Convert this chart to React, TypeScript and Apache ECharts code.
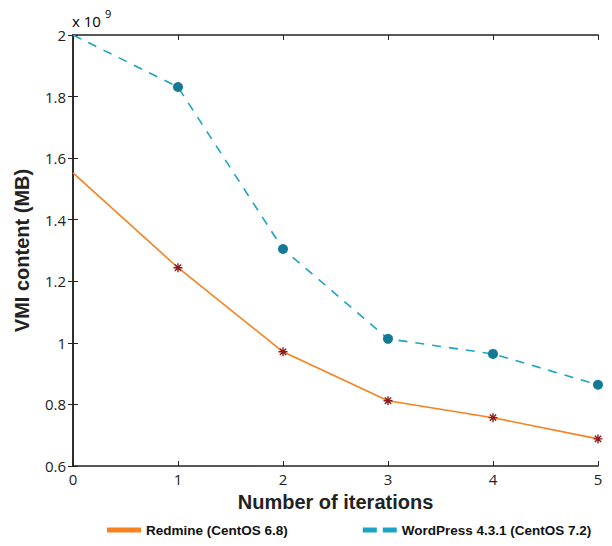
import React, { useEffect, useRef } from "react";
import * as echarts from "echarts";

const iterations = [0, 1, 2, 3, 4, 5];
const redmine = [1.552, 1.244, 0.971, 0.812, 0.757, 0.688];
const wordpress = [2.0, 1.831, 1.305, 1.013, 0.964, 0.864];
const seriesNames = ["Redmine (CentOS 6.8)", "WordPress 4.3.1 (CentOS 7.2)"];

const STAR =
  "path://M5,0L5,10M0,5L10,5M1.5,1.5L8.5,8.5M1.5,8.5L8.5,1.5";

export default function App() {
  const ref = useRef<HTMLDivElement>(null);
  useEffect(() => {
    const chart = echarts.init(ref.current!, null, { renderer: "svg" });
    const tickFont = { fontFamily: "Open Sans", fontSize: 15, color: "#222" };
    const titleFont = { fontFamily: "Liberation Sans", fontWeight: "bold", fontSize: 20, color: "#222" };
    const mk = (vals: number[]) =>
      iterations.map((x, i) =>
        i === 0 ? { value: [x, vals[i]], symbol: "none" } : { value: [x, vals[i]] }
      );
    chart.setOption({
      animation: false,
      backgroundColor: "#fff",
      grid: { left: 73, right: 14, top: 35, bottom: 80 },
      legend: {
        bottom: 4,
        left: 102,
        itemGap: 75,
        itemWidth: 34,
        itemHeight: 5,
        textStyle: { fontFamily: "Liberation Sans", fontWeight: "bold", fontSize: 13.5, color: "#111" },
        data: [
          { name: seriesNames[0], icon: "rect", itemStyle: { color: "#F5821F", borderWidth: 0 } },
          {
            name: seriesNames[1],
            icon: "path://M0,0h14v5h-14zM20,0h14v5h-14z",
            itemStyle: { color: "#1BA3C6", borderWidth: 0 },
          },
        ],
      },
      graphic: [
        {
          type: "text",
          left: 72,
          top: 8,
          style: {
            text: "{a|x 10}{b|9}",
            rich: {
              a: { fontFamily: "Open Sans", fontSize: 15, color: "#222", padding: [7, 0, 0, 0] },
              b: { fontFamily: "Open Sans", fontSize: 11, color: "#222", padding: [0, 0, 8, 4] },
            },
          },
        },
      ],
      xAxis: [
        {
          type: "value",
          min: 0,
          max: 5,
          interval: 1,
          name: "Number of iterations",
          nameLocation: "middle",
          nameGap: 26,
          nameTextStyle: titleFont,
          axisLine: { lineStyle: { color: "#222", width: 1.5 } },
          axisTick: { inside: true, length: 5, lineStyle: { color: "#222" } },
          axisLabel: { ...tickFont, margin: 5 },
          splitLine: { show: false },
        },
        {
          type: "value",
          min: 0,
          max: 5,
          interval: 1,
          position: "top",
          axisLine: { lineStyle: { color: "#222", width: 1.5 } },
          axisTick: { inside: true, length: 5, lineStyle: { color: "#222" } },
          axisLabel: { show: false },
          splitLine: { show: false },
        },
      ],
      yAxis: [
        {
          type: "value",
          min: 0.6,
          max: 2,
          interval: 0.2,
          name: "VMI content (MB)",
          nameLocation: "middle",
          nameGap: 41,
          nameTextStyle: titleFont,
          axisLine: { show: true, lineStyle: { color: "#222", width: 1.5 } },
          axisTick: { show: true, inside: true, length: 5, lineStyle: { color: "#222" } },
          axisLabel: {
            ...tickFont,
            margin: 7,
            formatter: (v: number) => String(Math.round(v * 10) / 10),
          },
          splitLine: { show: false },
        },
        {
          type: "value",
          min: 0.6,
          max: 2,
          interval: 0.2,
          position: "right",
          axisLine: { show: true, lineStyle: { color: "#222", width: 1.5 } },
          axisTick: { show: true, inside: true, length: 5, lineStyle: { color: "#222" } },
          axisLabel: { show: false },
          splitLine: { show: false },
        },
      ],
      series: [
        {
          name: seriesNames[0],
          type: "line",
          data: mk(redmine),
          lineStyle: { color: "#F5821F", width: 1.6 },
          itemStyle: { color: "#F5821F", borderColor: "#8E1B1B", borderWidth: 1.4 },
          symbol: STAR,
          symbolSize: 9,
          showSymbol: true,
          z: 3,
        },
        {
          name: seriesNames[1],
          type: "line",
          data: mk(wordpress),
          lineStyle: { color: "#1BA3C6", width: 1.6, type: [9, 8] },
          itemStyle: { color: "#127A94", borderWidth: 0 },
          symbol: "circle",
          symbolSize: 10,
          showSymbol: true,
          z: 2,
        },
      ],
    });
    return () => chart.dispose();
  }, []);
  return (
    <div
      ref={ref}
      style={{ position: "fixed", left: 0, top: 0, width: 612, height: 546, background: "#fff" }}
    />
  );
}
